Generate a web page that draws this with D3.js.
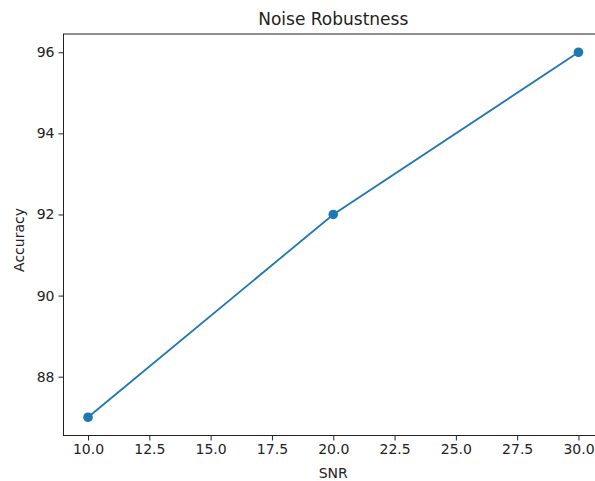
<!DOCTYPE html>
<html>
<head>
<meta charset="utf-8">
<script src="https://cdn.jsdelivr.net/npm/d3@7"></script>
<style>
  body { margin: 0; background: #fff; overflow: hidden; }
  text { font-family: "DejaVu Sans", sans-serif; fill: #222; }
</style>
</head>
<body>
<div id="chart"></div>
<script>
// data
const snr = [10, 20, 30];
const accuracy = [87, 92, 96];
const xTicks = [10, 12.5, 15, 17.5, 20, 22.5, 25, 27.5, 30];
const yTicks = [88, 90, 92, 94, 96];

const width = 595, height = 481;
const margin = { top: 34, right: -8, bottom: 45.5, left: 63.5 };

const svg = d3.select("#chart").append("svg")
  .attr("width", width)
  .attr("height", height);

// matplotlib-style 5% padding on both axes
const x = d3.scaleLinear()
  .domain([9, 31])
  .range([margin.left, width - margin.right]);

const y = d3.scaleLinear()
  .domain([86.55, 96.45])
  .range([height - margin.bottom, margin.top]);

const xAxis = svg.append("g")
  .attr("transform", `translate(0,${height - margin.bottom})`)
  .call(d3.axisBottom(x).tickValues(xTicks).tickFormat(d3.format(".1f")).tickSize(5).tickPadding(4));

const yAxis = svg.append("g")
  .attr("transform", `translate(${margin.left},0)`)
  .call(d3.axisLeft(y).tickValues(yTicks).tickSize(5).tickPadding(4));

[xAxis, yAxis].forEach(function(g) {
  g.selectAll("text").style("font-size", "14px").style("font-family", "DejaVu Sans, sans-serif").attr("fill", "#222");
  g.selectAll("line").attr("stroke", "#222");
  g.select(".domain").remove();
});

// frame
svg.append("rect")
  .attr("x", margin.left)
  .attr("y", margin.top)
  .attr("width", x(31) - margin.left)
  .attr("height", y(86.55) - margin.top)
  .attr("fill", "none")
  .attr("stroke", "#222")
  .attr("stroke-width", 1);

// line and markers
const pts = snr.map(function(d, i) { return [d, accuracy[i]]; });

svg.append("path")
  .datum(pts)
  .attr("fill", "none")
  .attr("stroke", "#1f77b4")
  .attr("stroke-width", 1.8)
  .attr("d", d3.line().x(d => x(d[0])).y(d => y(d[1])));

svg.selectAll("circle")
  .data(pts)
  .join("circle")
  .attr("cx", d => x(d[0]))
  .attr("cy", d => y(d[1]))
  .attr("r", 4.8)
  .attr("fill", "#1f77b4");

// labels
svg.append("text")
  .attr("x", (margin.left + x(31)) / 2)
  .attr("y", 25)
  .attr("text-anchor", "middle")
  .style("font-size", "17px")
  .text("Noise Robustness");

svg.append("text")
  .attr("x", x(20))
  .attr("y", 478)
  .attr("text-anchor", "middle")
  .style("font-size", "14px")
  .text("SNR");

svg.append("text")
  .attr("transform", `translate(24,240) rotate(-90)`)
  .attr("text-anchor", "middle")
  .style("font-size", "14px")
  .text("Accuracy");
</script>
</body>
</html>
